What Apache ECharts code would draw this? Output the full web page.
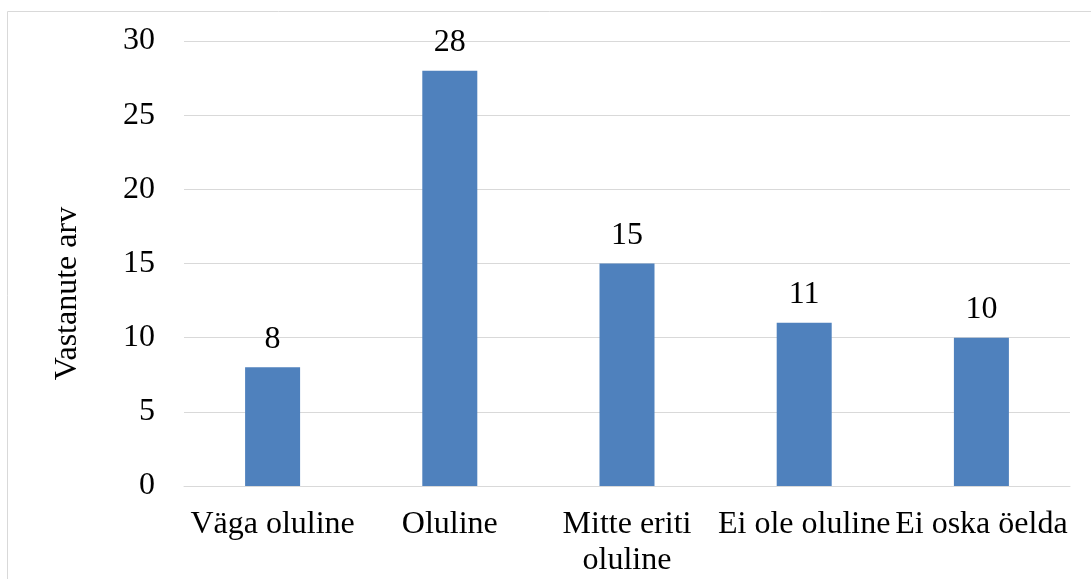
<!DOCTYPE html>
<html><head><meta charset="utf-8">
<script src="https://cdn.jsdelivr.net/npm/echarts@6/dist/echarts.min.js"></script>
<style>html,body{margin:0;padding:0;background:#fff}#c{width:1091px;height:579px}</style>
</head><body><div id="c"></div>
<script>
const categories = ['Väga oluline', 'Oluline', 'Mitte eriti\noluline', 'Ei ole oluline', 'Ei oska öelda'];
const values = [8, 28, 15, 11, 10];
const yTicks = { min: 0, max: 30, interval: 5 };
const yName = 'Vastanute arv';

const font = '"Liberation Serif", "Times New Roman", serif';
const chart = echarts.init(document.getElementById('c'), null, { renderer: 'canvas' });
chart.setOption({
  animation: false,
  graphic: [{ type: 'rect', shape: { x: 7.5, y: 11.5, width: 1200, height: 700 }, style: { fill: 'none', stroke: '#d9d9d9', lineWidth: 1 }, z: -1 }],
  grid: { left: 184, right: 21, top: 41, bottom: 92 },
  xAxis: {
    type: 'category', data: categories,
    axisLine: { lineStyle: { color: '#d9d9d9', width: 1 } },
    axisTick: { show: false },
    axisLabel: { color: '#000', fontFamily: font, fontSize: 32, margin: 21, lineHeight: 36, interval: 0 }
  },
  yAxis: {
    type: 'value', min: yTicks.min, max: yTicks.max, interval: yTicks.interval,
    name: yName, nameLocation: 'middle', nameGap: 100, nameRotate: 90,
    nameTextStyle: { color: '#000', fontFamily: font, fontSize: 32, padding: [0, 60, 0, 0] },
    axisLine: { show: false }, axisTick: { show: false },
    splitLine: { lineStyle: { color: '#d9d9d9', width: 1 } },
    axisLabel: { color: '#000', fontFamily: font, fontSize: 32, margin: 29 }
  },
  series: [{
    type: 'bar', data: values, barWidth: 55,
    itemStyle: { color: '#4f81bd' },
    label: { show: true, position: 'top', distance: 12, color: '#000', fontFamily: font, fontSize: 32 }
  }]
});
</script></body></html>
